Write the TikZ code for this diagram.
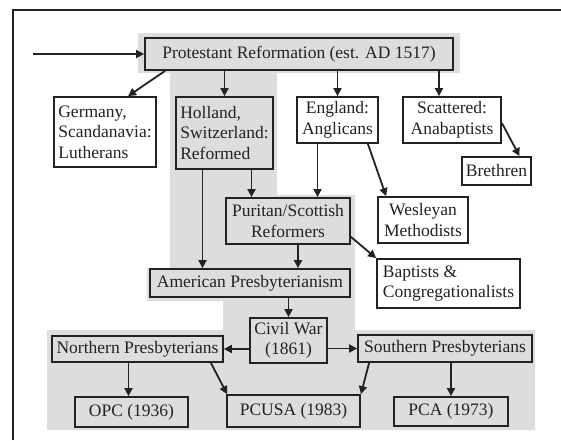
\documentclass[tikz,border=0pt]{standalone}
\usepackage{fontspec}
\setmainfont{Liberation Serif}
\usetikzlibrary{arrows.meta}

\definecolor{bandgrey}{RGB}{221,221,221}
\definecolor{inkgrey}{RGB}{34,34,34}

\begin{document}
\begin{tikzpicture}[x=1pt, y=-1pt,
    line width = 1.8pt,
    >={Triangle[length=8pt,width=8pt]},
    box/.style = {
      draw = inkgrey,
      fill = white,
      rectangle,
      inner sep = 3pt,
      text = inkgrey,
      font = \fontsize{17.5}{20.5}\selectfont
    },
    greybox/.style = {
      box,
      fill = bandgrey
    },
    arr/.style = {
      draw = inkgrey,
      ->
    }
  ]
  \useasboundingbox (0,0) rectangle (561,440);

  % frame and grey band
  \draw[inkgrey, line width=2pt] (13,440) -- (13,10) -- (561,10);
  \path[fill=bandgrey] (138,33) -- (460,33) -- (460,73) -- (277,73) -- (277,195)
    -- (355,195) -- (355,330) -- (535,330) -- (535,430) -- (47,430) -- (47,330)
    -- (223,330) -- (223,301) -- (147,301) -- (147,268) -- (170,268) -- (170,73)
    -- (138,73) -- cycle;


  \node[greybox, minimum width=308pt, minimum height=32pt] (prot) at (299,54) {Protestant Reformation (est. AD 1517)};

  \node[box, align=left, minimum width=102pt, minimum height=70pt] (germany) at (105,132) {Germany,\\Scandanavia:\\Lutherans};
  \node[greybox, align=left, minimum width=97pt, minimum height=72pt] (holland) at (224.5,133) {Holland,\\Switzerland:\\Reformed};
  \node[box, align=center, minimum width=81pt, minimum height=46pt] (england) at (337.5,120) {England:\\Anglicans};
  \node[box, align=center, minimum width=98pt, minimum height=46pt] (scattered) at (452,120) {Scattered:\\Anabaptists};
  \node[box, minimum width=69pt, minimum height=28pt] (brethren) at (496.5,171) {Brethren};

  \node[greybox, align=center, minimum width=124pt, minimum height=46pt] (puritan) at (288,221) {Puritan/Scottish\\Reformers};
  \node[box, align=center, minimum width=90pt, minimum height=46pt] (wesleyan) at (423,220) {Wesleyan\\Methodists};
  \node[box, align=left, minimum width=143pt, minimum height=49pt] (baptists) at (448.5,283.5) {Baptists \&\\Congregationalists};

  \node[greybox, minimum width=200pt, minimum height=28pt] (ampres) at (250,283) {American Presbyterianism};
  \node[greybox, align=center, minimum width=77pt, minimum height=45pt] (civil) at (288.5,340.5) {Civil War\\(1861)};
  \node[greybox, minimum width=171pt, minimum height=26pt] (north) at (137.5,349) {Northern Presbyterians};
  \node[greybox, minimum width=174pt, minimum height=27pt] (south) at (445,348.5) {Southern Presbyterians};

  \node[greybox, minimum width=113pt, minimum height=30pt] (opc) at (131.5,412) {OPC (1936)};
  \node[greybox, minimum width=133pt, minimum height=32pt] (pcusa) at (293.5,411) {PCUSA (1983)};
  \node[greybox, minimum width=114pt, minimum height=29pt] (pca) at (451,411.5) {PCA (1973)};


  \coordinate (start) at (33,54);
  \draw[arr] (start) -- (prot);

  \draw[arr] ([xshift=21pt]prot.south west) -- ([xshift=23pt]germany.north);
  \draw[arr] (prot.south -| holland.north) -- (holland.north);
  \draw[arr] (prot.south -| england.north) -- (england.north);
  \draw[arr] ([xshift=-13pt]scattered.north |- prot.south) -- ([xshift=-13pt]scattered.north);
  \draw[arr] ([yshift=-3pt]scattered.east) -- ([xshift=23pt]brethren.north);

  \draw[arr] ([xshift=-20pt]england.south) -- ([xshift=-20pt]england.south |- puritan.north);
  \draw[arr] ([xshift=-11pt]england.south east) -- ([xshift=9pt]wesleyan.north west);
  \draw[arr] ([xshift=27pt]holland.south) -- ([xshift=27pt]holland.south |- puritan.north);
  \draw[arr] ([xshift=-22pt]holland.south) -- ([xshift=-22pt]holland.south |- ampres.north);
  \draw[arr] ([xshift=10pt]puritan.south) -- ([xshift=10pt]puritan.south |- ampres.north);
  \draw[arr] ([yshift=8pt]puritan.south east) -- (baptists.north west);

  \draw[arr] (ampres.south -| civil.north) -- (civil.north);
  \draw[arr] (civil.west |- north.east) -- (north.east);
  \draw[arr] (civil.east |- south.west) -- (south.west);

  \draw[arr] ([xshift=-3pt]opc.north |- north.south) -- ([xshift=-3pt]opc.north);
  \draw[arr] ([xshift=-13pt]north.south east) -- ([xshift=1pt]pcusa.north west);
  \draw[arr] ([xshift=12pt]south.south west) -- (pcusa.north east);
  \draw[arr] (south.south -| pca.north) -- (pca.north);
\end{tikzpicture}
\end{document}
